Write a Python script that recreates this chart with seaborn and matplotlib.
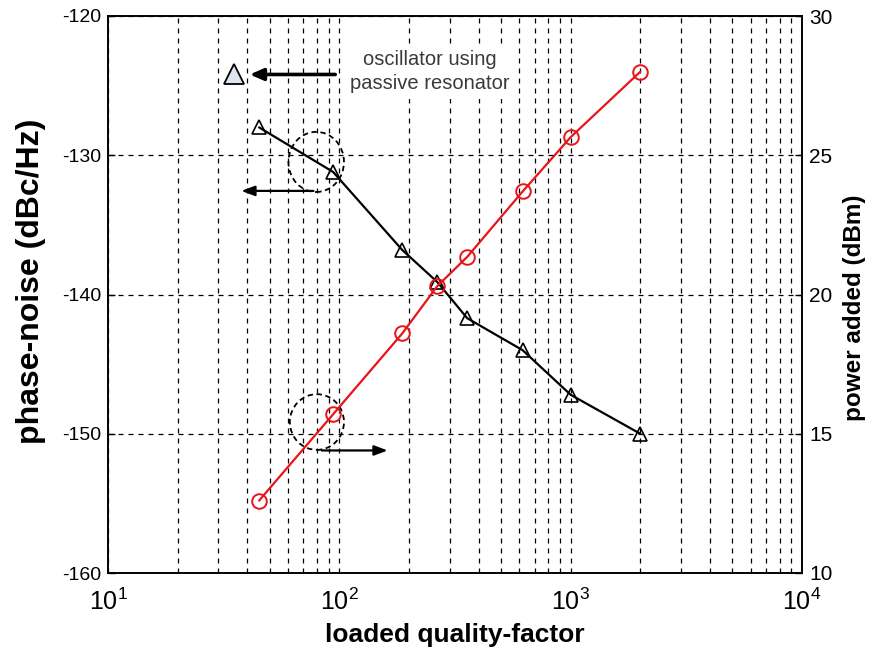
import numpy as np
import pandas as pd
import seaborn as sns
import matplotlib
matplotlib.use("Agg")
import matplotlib.pyplot as plt
from matplotlib.patches import Ellipse
from matplotlib.ticker import FixedLocator, LogLocator, NullFormatter

# loaded quality factor of each measured oscillator
quality_factor = [45, 94, 187, 265, 357, 620, 1000, 2000]
# phase noise (left axis, dBc/Hz)
phase_noise = [-128.0, -131.2, -136.8, -139.1, -141.7, -144.0, -147.2, -150.0]
# power added by the amplifier (right axis, dBm)
power_added = [12.6, 15.7, 18.6, 20.3, 21.35, 23.7, 25.65, 28.0]
# reference point: oscillator built around a passive resonator
passive_q = [35]
passive_noise = [-124.2]

left_ticks = [-160, -150, -140, -130, -120]
right_ticks = [10, 15, 20, 25, 30]
x_ticks = [10, 100, 1000, 10000]
x_tick_labels = [r"$10^{1}$", r"$10^{2}$", r"$10^{3}$", r"$10^{4}$"]

sns.set_style("white")
plt.rcParams["font.family"] = ["Liberation Sans", "DejaVu Sans"]
plt.rcParams["mathtext.fontset"] = "custom"
plt.rcParams["mathtext.rm"] = "Liberation Sans"
plt.rcParams["mathtext.it"] = "Liberation Sans"
plt.rcParams["axes.unicode_minus"] = False
plt.rcParams["text.color"] = "black"
plt.rcParams["axes.labelcolor"] = "black"

df = pd.DataFrame({"Q": quality_factor, "noise": phase_noise, "power": power_added})

fig = plt.figure(figsize=(8.75, 6.56), dpi=100)
ax = fig.add_axes([108 / 875, 1 - 573 / 656, (802 - 108) / 875, (573 - 16) / 656])
ax2 = ax.twinx()

sns.lineplot(data=df, x="Q", y="noise", ax=ax, sort=False, color="black", lw=1.6,
             marker="^", markersize=10.5, markerfacecolor="none",
             markeredgecolor="black", markeredgewidth=1.2)
ax.plot(passive_q, passive_noise, marker="^", markersize=15, linestyle="none",
        markerfacecolor="#dfe5ee", markeredgecolor="black", markeredgewidth=1.3)

sns.lineplot(data=df, x="Q", y="power", ax=ax2, sort=False, color="#e8141a", lw=1.6,
             marker="o", markersize=10.5, markerfacecolor="none",
             markeredgecolor="#e8141a", markeredgewidth=1.4)

ax.set_xscale("log")
ax.set_xlim(10, 10000)
ax.set_ylim(-160, -120)
ax2.set_ylim(10, 30)

ax.xaxis.set_major_locator(FixedLocator(x_ticks))
ax.set_xticklabels(x_tick_labels)
ax.xaxis.set_minor_locator(LogLocator(base=10, subs=np.arange(2, 10)))
ax.xaxis.set_minor_formatter(NullFormatter())
ax.set_yticks(left_ticks)
ax2.set_yticks(right_ticks)

grid_kw = dict(color="black", linestyle=(0, (4, 4)), linewidth=0.9)
ax.grid(True, which="major", axis="both", **grid_kw)
ax.grid(True, which="minor", axis="x", **grid_kw)
ax2.grid(False)

for a in (ax, ax2):
    a.tick_params(direction="in", length=5, width=1, labelsize=14, colors="black", pad=5)
    a.tick_params(which="minor", length=3, direction="in")
    for s in a.spines.values():
        s.set_color("black")
        s.set_linewidth(1.2)
ax.tick_params(axis="x", pad=11, labelsize=18)
ax2.tick_params(axis="y", labelsize=15)

ax.set_xlabel("loaded quality-factor", fontsize=19, fontweight="bold", labelpad=6)
ax.set_ylabel("phase-noise (dBc/Hz)", fontsize=23, fontweight="bold")
ax2.set_ylabel("power added (dBm)", fontsize=17.5, fontweight="bold")
ax.yaxis.set_label_coords(-0.089, 0.524)
ax2.yaxis.set_label_coords(1.059, 0.476)

# annotation for the passive-resonator reference point
ax.annotate("", xy=(41, -124.2), xytext=(96, -124.2),
            arrowprops=dict(arrowstyle="-|>,head_width=0.35,head_length=0.8",
                            color="black", lw=2.6, shrinkA=0, shrinkB=0))
ax.text(247, -124.0, "oscillator using\npassive resonator", ha="center", va="center",
        fontsize=14.5, color="#3a3a3a", linespacing=1.35,
        bbox=dict(facecolor="white", edgecolor="none", pad=4), zorder=3)

# dashed circles with arrows telling which axis each curve belongs to
ax.add_patch(Ellipse((0.300, 0.738), 0.080, 0.108, transform=ax.transAxes,
                     fill=False, edgecolor="black", linestyle=(0, (3, 2)), lw=1.3))
ax.annotate("", xy=(0.192, 0.686), xytext=(0.296, 0.686), xycoords="axes fraction",
            arrowprops=dict(arrowstyle="-|>,head_width=0.3,head_length=0.8",
                            color="black", lw=1.6, shrinkA=0, shrinkB=0))
ax.add_patch(Ellipse((0.301, 0.271), 0.078, 0.100, transform=ax.transAxes,
                     fill=False, edgecolor="black", linestyle=(0, (3, 2)), lw=1.3))
ax.annotate("", xy=(0.403, 0.220), xytext=(0.308, 0.220), xycoords="axes fraction",
            arrowprops=dict(arrowstyle="-|>,head_width=0.3,head_length=0.8",
                            color="black", lw=1.6, shrinkA=0, shrinkB=0))

fig.savefig("out.png", dpi=100)
